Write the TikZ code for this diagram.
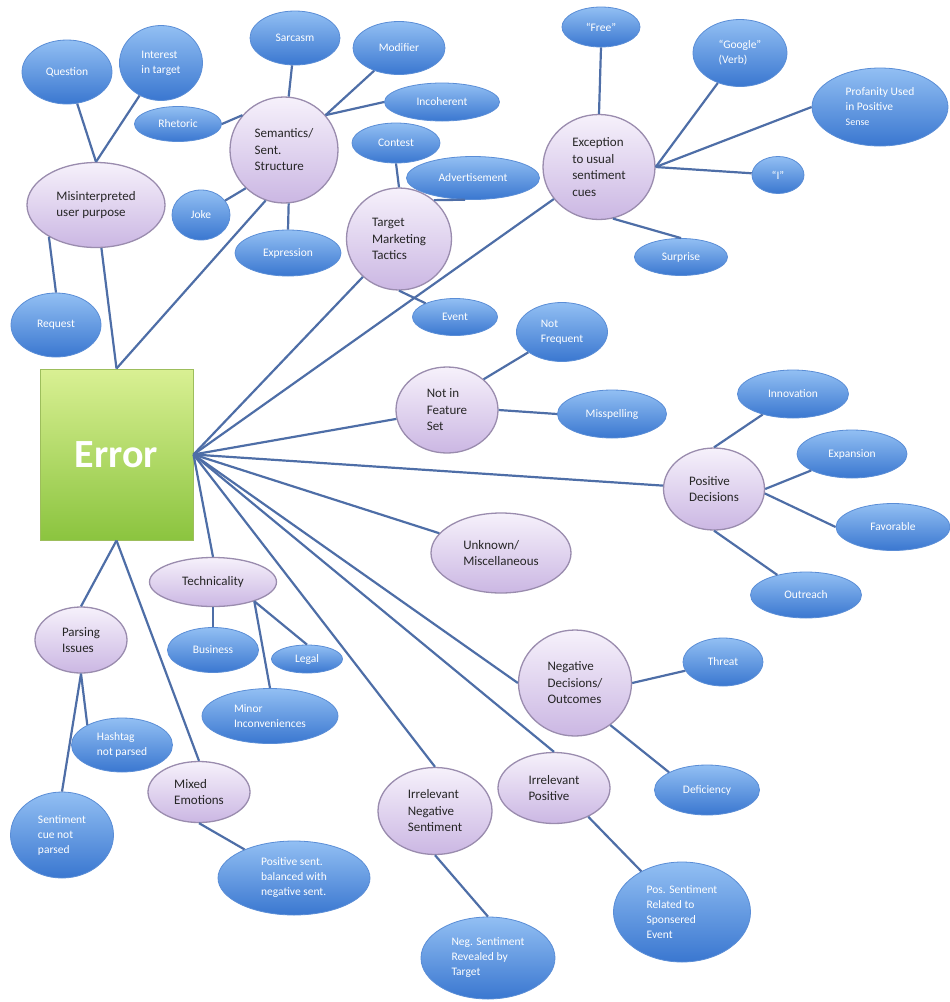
\documentclass[tikz,border=0pt]{standalone}
\usepackage{fontspec}
\setmainfont{Carlito}
\usepackage{tikz}
\usetikzlibrary{shapes.geometric}
\definecolor{errtop}{HTML}{D9F093}
\definecolor{errbot}{HTML}{8BC43F}
\definecolor{errline}{HTML}{9DBE5C}
\definecolor{cattop}{HTML}{F6F1FB}
\definecolor{catbot}{HTML}{CBB7E3}
\definecolor{catline}{HTML}{9A8CAE}
\definecolor{leaftop}{HTML}{92BFF3}
\definecolor{leafbot}{HTML}{3A77D0}
\definecolor{leafline}{HTML}{5A8DD6}
\definecolor{connblue}{HTML}{4E6EA7}
\tikzstyle{errbox} = [rectangle, draw=errline, line width=1pt, top color=errtop, bottom color=errbot, minimum width=153pt, minimum height=171pt, text=white, font=\fontsize{40}{40}\selectfont\bfseries]
\tikzstyle{cat} = [ellipse, draw=catline, line width=1.3pt, top color=cattop, bottom color=catbot, inner sep=0pt, align=left, text=black!85, font=\fontsize{13}{16.5}\selectfont]
\tikzstyle{leaf} = [ellipse, draw=leafline, line width=0.8pt, top color=leaftop, bottom color=leafbot, inner sep=0pt, align=left, text=white, font=\fontsize{11.5}{15}\selectfont]
\tikzstyle{conn} = [draw=connblue, line width=2.2pt]
\tikzset{wh/.style 2 args={minimum width=#1pt, minimum height=#2pt}}

\begin{document}
\begin{tikzpicture}[x=1pt,y=-1pt]
\useasboundingbox (0,0) rectangle (950,1002);
\node[errbox] (err) at (116.5,454.5) {Error};
% categories
\node[cat, wh={138}{85}] (mis) at (96,205) {Misinterpreted\\user purpose};
\node[cat, wh={108}{106}] (sem) at (284,150) {Semantics/\\Sent.\\Structure};
\node[cat, wh={105}{102}] (tmt) at (399,239) {Target\\Marketing\\Tactics};
\node[cat, wh={112}{105}] (exc) at (599,167) {Exception\\to usual\\sentiment\\cues};
\node[cat, wh={102}{86}] (nif) at (447,410) {Not in\\Feature\\Set};
\node[cat, wh={101}{82}] (posd) at (714,489) {Positive\\Decisions};
\node[cat, wh={140}{80}] (unk) at (501,553) {Unknown/\\Miscellaneous};
\node[cat, wh={127}{49}] (tech) at (213,582) {Technicality};
\node[cat, wh={92}{66}] (pars) at (81,640) {Parsing\\Issues};
\node[cat, wh={102}{61}] (mixed) at (199,792) {Mixed\\Emotions};
\node[cat, wh={114}{87}] (irrneg) at (435,811) {Irrelevant\\Negative\\Sentiment};
\node[cat, wh={112}{71}] (irrpos) at (554,788) {Irrelevant\\Positive};
\node[cat, wh={113}{106}] (negd) at (575,683) {Negative\\Decisions/\\Outcomes};
% leaves
\node[leaf, wh={90}{64}] (ques) at (67,72) {Question};
\node[leaf, wh={83}{75}] (inter) at (161,63) {Interest\\in target};
\node[leaf, wh={90}{64}] (req) at (56,325) {Request};
\node[leaf, wh={90}{54}] (sarc) at (295,38) {Sarcasm};
\node[leaf, wh={92}{53}] (mod) at (399,48) {Modifier};
\node[leaf, wh={87}{35}] (rhet) at (178,124) {Rhetoric};
\node[leaf, wh={115}{38}] (inc) at (442,102) {Incoherent};
\node[leaf, wh={58}{50}] (joke) at (201,215) {Joke};
\node[leaf, wh={106}{46}] (expr) at (288,253) {Expression};
\node[leaf, wh={88}{40}] (cont) at (396,143) {Contest};
\node[leaf, wh={133}{43}] (adv) at (473,178) {Advertisement};
\node[leaf, wh={85}{37}] (event) at (455,317) {Event};
\node[leaf, wh={78}{40}] (free) at (601,27) {“Free”};
\node[leaf, wh={94}{67}] (goo) at (740,53) {“Google”\\(Verb)};
\node[leaf, wh={136}{78}] (prof) at (880,107) {Profanity Used\\in Positive\\{\fontsize{10}{10}\selectfont Sense}};
\node[leaf, wh={52}{37}] (iq) at (778,175) {“I”};
\node[leaf, wh={93}{37}] (surp) at (681,257) {Surprise};
\node[leaf, wh={91}{59}] (nfreq) at (562,332) {Not\\Frequent};
\node[leaf, wh={109}{48}] (missp) at (612,414) {Misspelling};
\node[leaf, wh={111}{48}] (innov) at (793,394) {Innovation};
\node[leaf, wh={110}{48}] (expan) at (852,454) {Expansion};
\node[leaf, wh={114}{47}] (fav) at (893,527) {Favorable};
\node[leaf, wh={111}{46}] (outr) at (806,595) {Outreach};
\node[leaf, wh={91}{45}] (bus) at (213,650) {Business};
\node[leaf, wh={71}{28}] (legal) at (307,659) {Legal};
\node[leaf, wh={136}{55}] (minor) at (270,716) {Minor\\Inconveniences};
\node[leaf, wh={101}{54}] (hash) at (122,745) {Hashtag\\not parsed};
\node[leaf, wh={103}{86}] (scue) at (62,835) {Sentiment\\cue not\\parsed};
\node[leaf, wh={152}{74}] (posbal) at (294,878) {Positive sent.\\balanced with\\negative sent.};
\node[leaf, wh={80}{48}] (threat) at (723,662) {Threat};
\node[leaf, wh={105}{50}] (def) at (707,790) {Deficiency};
\node[leaf, wh={137}{100}] (possent) at (682,912) {Pos. Sentiment\\Related to\\Sponsered\\Event};
\node[leaf, wh={134}{82}] (negsent) at (488,958) {Neg. Sentiment\\Revealed by\\Target};
% from the hub
\draw[conn] (err.north) -- (mis);
\draw[conn] (err.north) -- (sem.250);
\draw[conn] (err.east) -- (tmt);
\draw[conn] (err.east) -- (exc);
\draw[conn] (err.east) -- (nif);
\draw[conn] (err.east) -- (posd);
\draw[conn] (err.east) -- (unk);
\draw[conn] (err.east) -- (negd.west);
\draw[conn] (err.east) -- (irrpos.north);
\draw[conn] (err.east) -- (irrneg.north);
\draw[conn] (err.east) -- (tech.north);
\draw[conn] (err.south) -- (pars.north);
\draw[conn] (err.south) -- (mixed.north);
% to the leaves
\draw[conn] (ques) -- (mis.north);
\draw[conn] (inter) -- (mis.north);
\draw[conn] (mis.214) -- (req.north);
\draw[conn] (sarc) -- (sem.85);
\draw[conn] (rhet.east) -- (sem.140);
\draw[conn] (joke) -- (sem.225);
\draw[conn] (sem.275) -- (expr.north);
\draw[conn] (sem.40) -- (mod);
\draw[conn] (sem.40) -- (inc.west);
\draw[conn] (tmt.north) -- (cont.south);
\draw[conn] (tmt.48) -- (adv.250);
\draw[conn] (tmt.south) -- (event.155);
\draw[conn] (exc.north) -- (free.south);
\draw[conn] (exc.east) -- (goo);
\draw[conn] (exc.east) -- (prof.west);
\draw[conn] (exc.east) -- (iq);
\draw[conn] (exc.285) -- (surp.north);
\draw[conn] (nif.40) -- (nfreq);
\draw[conn] (nif.east) -- (missp.west);
\draw[conn] (posd.north) -- (innov);
\draw[conn] (posd.east) -- (expan);
\draw[conn] (posd.-5) -- (fav.west);
\draw[conn] (posd.south) -- (outr);
\draw[conn] (tech.south) -- (bus.north);
\draw[conn] (tech.-25) -- (legal.north);
\draw[conn] (tech.-25) -- (minor.north);
\draw[conn] (pars.south) -- (hash.150);
\draw[conn] (pars.south) -- (scue.north);
\draw[conn] (mixed.south) -- (posbal);
\draw[conn] (negd.east) -- (threat);
\draw[conn] (negd.-50) -- (def.155);
\draw[conn] (irrneg.south) -- (negsent.north);
\draw[conn] (irrpos.-40) -- (possent.135);
\end{tikzpicture}
\end{document}
